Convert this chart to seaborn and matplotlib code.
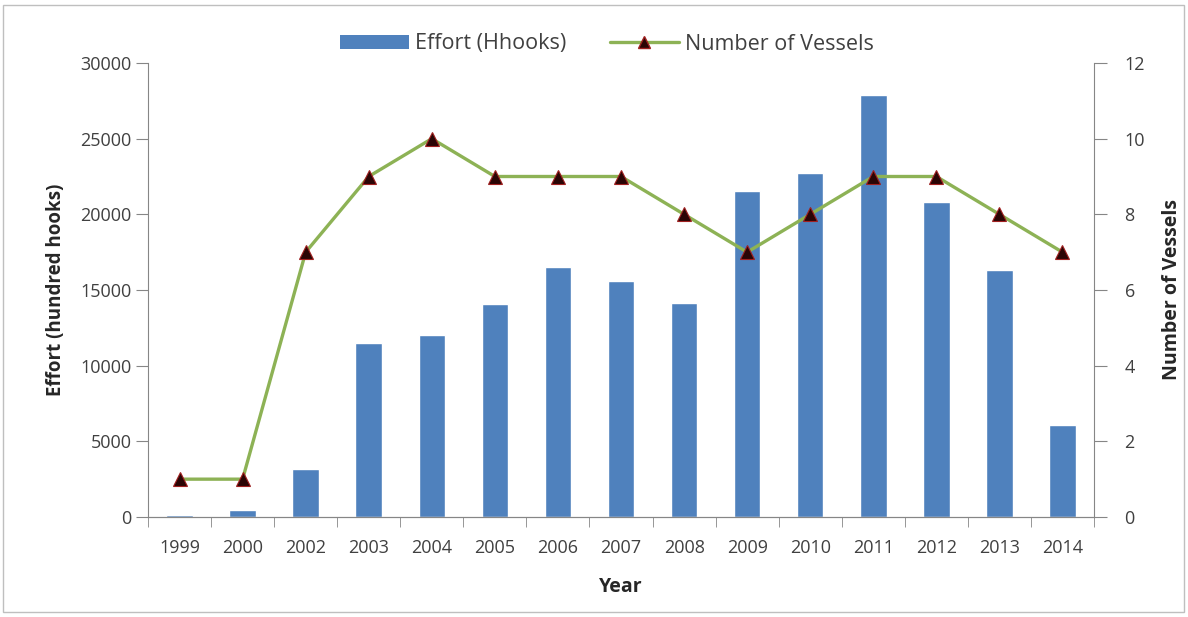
import matplotlib
matplotlib.use("Agg")
import matplotlib.pyplot as plt
import numpy as np
import pandas as pd
import seaborn as sns
from matplotlib.lines import Line2D
from matplotlib.patches import Patch, Rectangle

years = ["1999", "2000", "2002", "2003", "2004", "2005", "2006", "2007",
         "2008", "2009", "2010", "2011", "2012", "2013", "2014"]
effort = [100, 450, 3200, 11500, 12000, 14100, 16500, 15600,
          14150, 21550, 22700, 27900, 20800, 16300, 6100]
vessels = [1, 1, 7, 9, 10, 9, 9, 9, 8, 7, 8, 9, 9, 8, 7]

bar_color = "#4F81BD"
line_color = "#8DB255"
axis_grey = "#868686"
text_grey = "#404040"

sns.set_style("white")
plt.rcParams["font.family"] = ["Open Sans", "DejaVu Sans"]

df = pd.DataFrame({"Year": years, "Effort": effort, "Vessels": vessels})

fig = plt.figure(figsize=(11.88, 6.17), dpi=100)
ax = fig.add_axes([148 / 1188, 1 - 517 / 617, (1094 - 148) / 1188, (517 - 63) / 617])

sns.barplot(data=df, x="Year", y="Effort", color=bar_color, width=0.42,
            saturation=1, ax=ax)
ax.set_xlim(-0.5, len(years) - 0.5)
ax.set_ylim(0, 30000)
ax.set_yticks(np.arange(0, 30001, 5000))

ax2 = ax.twinx()
pos = np.arange(len(years))
sns.lineplot(x=pos, y=df["Vessels"], color=line_color, linewidth=2.4,
             marker="^", markersize=10, markerfacecolor="#2a0505",
             markeredgecolor="#a02020", markeredgewidth=0.8, ax=ax2)
ax2.set_ylim(0, 12)
ax2.set_yticks(np.arange(0, 13, 2))
ax2.set_xlim(-0.5, len(years) - 0.5)

for a in (ax, ax2):
    for s in a.spines.values():
        s.set_visible(False)
    a.spines["bottom"].set_visible(True)
    a.spines["bottom"].set_color(axis_grey)
ax.spines["left"].set_visible(True)
ax.spines["left"].set_color(axis_grey)
ax2.spines["right"].set_visible(True)
ax2.spines["right"].set_color(axis_grey)

ax.tick_params(axis="y", direction="out", length=9, color=axis_grey,
               labelsize=13, labelcolor=text_grey, pad=3, left=True)
ax2.tick_params(axis="y", direction="out", length=9, color=axis_grey,
                labelsize=13, labelcolor=text_grey, pad=13, right=True)
ax.set_xticks(pos)
ax.set_xticklabels(years)
ax.tick_params(axis="x", length=0, labelsize=13, labelcolor=text_grey, pad=16)
ax.set_xticks(np.arange(-0.5, len(years), 1), minor=True)
ax.tick_params(axis="x", which="minor", direction="out", length=7,
               color=axis_grey, bottom=True)

ax.set_xlabel("Year", fontsize=14, fontweight="bold", labelpad=14)
ax.set_ylabel("Effort (hundred hooks)", fontsize=13.5, fontweight="bold", labelpad=10)
ax2.set_ylabel("Number of Vessels", fontsize=14, fontweight="bold", labelpad=12)

handles = [Patch(facecolor=bar_color, edgecolor="none"),
           Line2D([0], [0], color=line_color, lw=2.4, marker="^", markersize=9,
                  markerfacecolor="#2a0505", markeredgecolor="#a02020")]
fig.legend(handles, ["Effort (Hhooks)", "Number of Vessels"], loc="center",
           bbox_to_anchor=(0.511, 1 - 44 / 617), ncol=2, frameon=False,
           fontsize=15.5, handlelength=3.2, handleheight=0.6, columnspacing=2.0,
           handletextpad=0.3, labelcolor=text_grey)

fig.patches.append(Rectangle((3 / 1188, 5 / 617), 1181 / 1188, 607 / 617,
                             transform=fig.transFigure, fill=False,
                             edgecolor="#bfbfbf", linewidth=1))

fig.savefig("out.png", dpi=100)
